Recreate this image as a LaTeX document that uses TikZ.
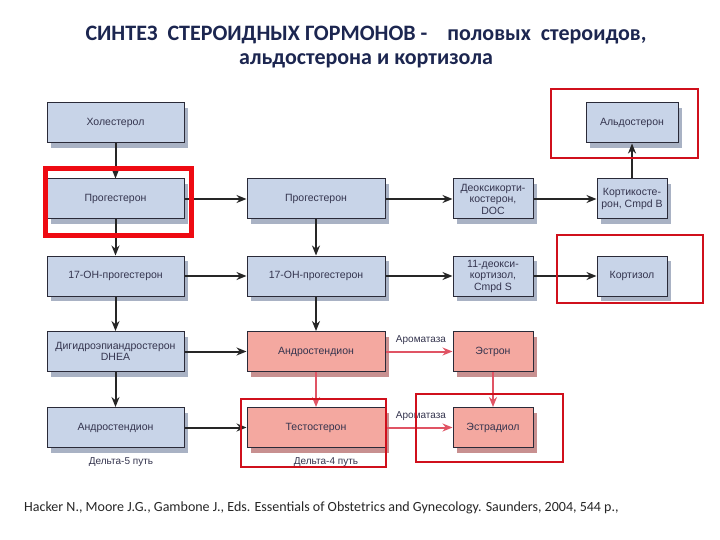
\documentclass[tikz,border=0pt]{standalone}
\usepackage{fontspec}
\setmainfont{Liberation Sans}
\newfontfamily\titlefont{Carlito}
\usetikzlibrary{arrows.meta,shadows}
\definecolor{bluefill}{HTML}{C8D4E8}
\definecolor{pinkfill}{HTML}{F4A8A0}
\definecolor{boxborder}{HTML}{2A2A38}
\definecolor{blueshadow}{HTML}{A9B2C4}
\definecolor{pinkshadow}{HTML}{C89090}
\definecolor{boxtext}{HTML}{34344E}
\definecolor{titlecol}{HTML}{1C2650}
\definecolor{frame}{HTML}{D0101C}
\definecolor{thickframe}{HTML}{EE0A12}
\definecolor{pinkarrow}{HTML}{E05464}
\begin{document}
\begin{tikzpicture}[x=1pt,y=-1pt,
  bbox/.style={draw=boxborder, line width=1pt, fill=bluefill, minimum height=40pt, inner sep=1pt,
    align=center, text=boxtext, font=\fontsize{10.5}{11.5}\selectfont,
    general shadow={fill=blueshadow, shadow xshift=4pt, shadow yshift=-5pt}},
  pbox/.style={bbox, fill=pinkfill, general shadow={fill=pinkshadow, shadow xshift=4pt, shadow yshift=-5pt}},
  arr/.style={-{Stealth[length=10pt,width=8pt]}, line width=2pt, black!85},
  parr/.style={-{Stealth[length=10pt,width=8pt]}, line width=2pt, pinkarrow},
  lbl/.style={text=boxtext, font=\fontsize{10}{11}\selectfont, inner sep=0pt},
  thinframe/.style={draw=frame, line width=2pt},
]
\useasboundingbox (0,0) rectangle (720,540);
\fill[white] (0,0) rectangle (720,540);

% title
\node[font=\titlefont\bfseries\fontsize{22}{24}\selectfont, text=titlecol, align=center] (title) at (366,47)
  {СИНТЕЗ\ \ СТЕРОИДНЫХ ГОРМОНОВ -\ \ \ \ половых\ \ стероидов,\\альдостерона и кортизола};

% column 1
\node[bbox, minimum width=137pt] (chol) at (115.5,123) {Холестерол};
\node[bbox, minimum width=137pt] (prog1) at (115.5,199) {Прогестерон};
\node[bbox, minimum width=137pt] (oh1) at (115.5,276) {17-OH-прогестерон};
\node[bbox, minimum width=137pt] (dhea) at (115.5,351.5) {Дигидроэпиандростерон\\DHEA};
\node[bbox, minimum width=137pt] (andr1) at (115.5,427.5) {Андростендион};
% column 2
\node[bbox, minimum width=138pt] (prog2) at (316,199) {Прогестерон};
\node[bbox, minimum width=138pt] (oh2) at (316,276) {17-OH-прогестерон};
\node[pbox, minimum width=138pt] (andr2) at (316,351.5) {Андростендион};
\node[pbox, minimum width=138pt] (test) at (316,427.5) {Тестостерон};
% column 3
\node[bbox, minimum width=80pt] (doc) at (493,199) {Деоксикорти-\\костерон,\\DOC};
\node[bbox, minimum width=80pt] (deoxy) at (493,276) {11-деокси-\\кортизол,\\Cmpd S};
\node[pbox, minimum width=80pt] (estron) at (493,351.5) {Эстрон};
\node[pbox, minimum width=80pt] (estradiol) at (493,427.5) {Эстрадиол};
% column 4
\node[bbox, minimum width=92pt] (aldo) at (632,123) {Альдостерон};
\node[bbox, minimum width=70pt] (cortico) at (632,199) {Кортикосте-\\рон, Cmpd B};
\node[bbox, minimum width=70pt] (cortisol) at (632,276) {Кортизол};

% black arrows
\draw[arr] (chol) -- (prog1);
\draw[arr] (prog1) -- (oh1);
\draw[arr] (oh1) -- (dhea);
\draw[arr] (dhea) -- (andr1);
\draw[arr] (prog1) -- (prog2);
\draw[arr] (oh1) -- (oh2);
\draw[arr] (dhea) -- (andr2);
\draw[arr] (andr1) -- (test);
\draw[arr] (prog2) -- (oh2);
\draw[arr] (oh2) -- (andr2);
\draw[arr] (prog2) -- (doc);
\draw[arr] (doc) -- (cortico);
\draw[arr] (cortico) -- (aldo);
\draw[arr] (oh2) -- (deoxy);
\draw[arr] (deoxy) -- (cortisol);

% pink arrows
\draw[parr] (andr2) -- (test);
\draw[parr] (estron) -- (estradiol);
\draw[parr] (andr2) -- (estron);
\draw[parr] (test) -- (estradiol);
\node[lbl] (arom1) at (421,340) {Ароматаза};
\node[lbl] (arom2) at (421,416) {Ароматаза};

% delta labels
\node[lbl] (d5) at (121,462) {Дельта-5 путь};
\node[lbl] (d4) at (326,462) {Дельта-4 путь};

% red frames
\draw[draw=thickframe, line width=5pt] (45,169) rectangle (191,235);
\draw[thinframe] (551,89) rectangle (698,158);
\draw[thinframe] (557,235) rectangle (703,303);
\draw[thinframe] (241,399) rectangle (386,467);
\draw[thinframe] (416,394) rectangle (563,462);

% citation
\node[font=\titlefont\fontsize{14}{16}\selectfont, anchor=west, inner sep=0pt, text=black!85] (cite) at (24,508)
  {Hacker N., Moore J.G., Gambone J., Eds. Essentials of Obstetrics and Gynecology. Saunders, 2004, 544 p.,};
\end{tikzpicture}
\end{document}
